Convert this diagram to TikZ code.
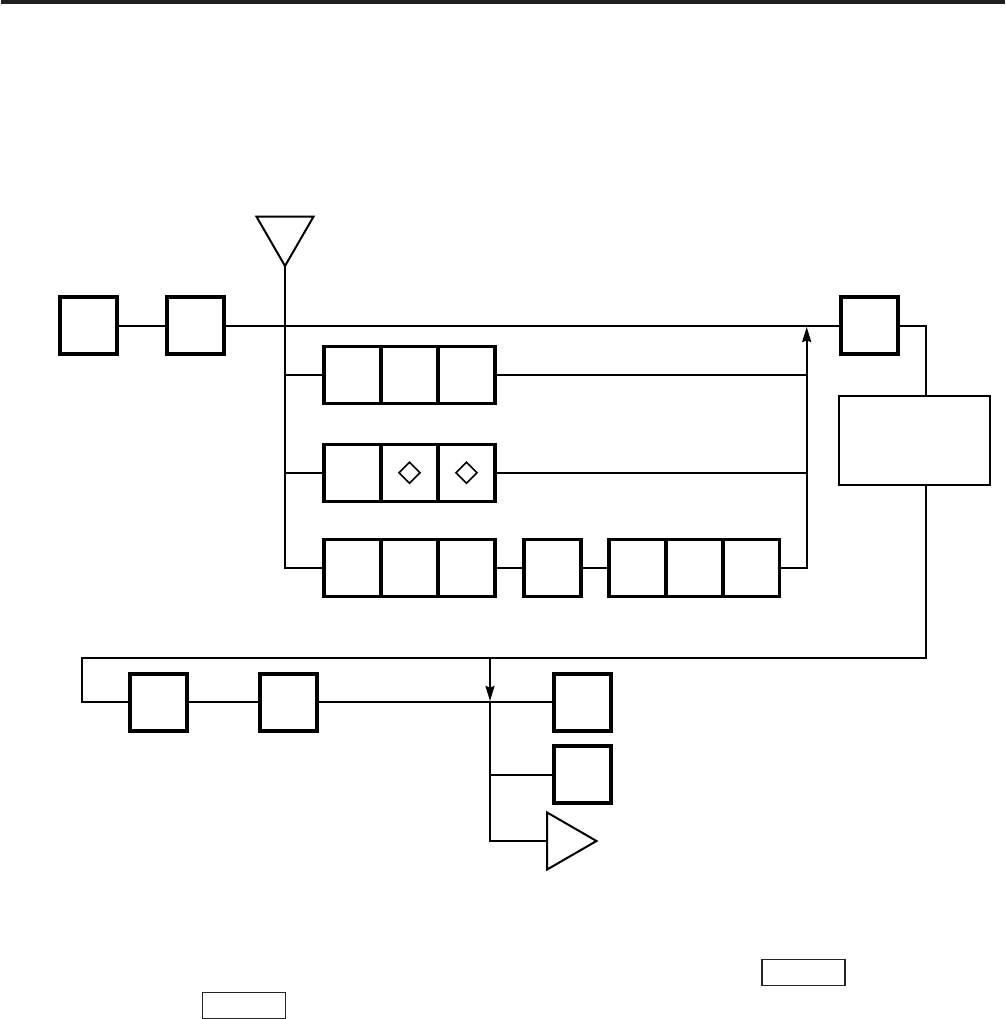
\documentclass[tikz,border=0pt]{standalone}
\usetikzlibrary{arrows.meta,shapes.geometric}

\begin{document}
\begin{tikzpicture}[
    x=1pt, y=-1pt,
    >={Stealth[length=15pt,width=9pt,inset=1.5pt]},
    line width=2pt,
    blk/.style={rectangle, draw, line width=3.7pt, minimum width=57pt, minimum height=57pt,
                inner sep=0pt, outer sep=0pt},
    ctl/.style={rectangle, draw, line width=2pt, minimum width=150.5pt, minimum height=89pt,
                inner sep=0pt, outer sep=0pt},
    mrk/.style={diamond, draw, line width=1.5pt, aspect=1, minimum size=21pt,
                inner sep=0pt, outer sep=0pt},
    ref/.style={rectangle, draw=black!85, line width=1.2pt, minimum width=83pt, minimum height=26pt,
                inner sep=0pt, outer sep=0pt},
    tri/.style={regular polygon, regular polygon sides=3, draw, line width=2pt,
                minimum size=66pt, inner sep=0pt, outer sep=0pt},
  ]
  \useasboundingbox (0,0) rectangle (1005,1019);

  %% top rule
  \node[rectangle, fill=black!88, minimum width=1004pt, minimum height=4pt,
        inner sep=0pt, outer sep=0pt] (toprule) at (502.5,2) {};

  %% ===== upper chain =====
  \node[blk] (inl)  at (88.7,325.5) {};
  \node[blk] (ins)  at (195.5,325.5) {};
  \node[blk] (outs) at (869.5,325.5) {};
  \node[ctl] (ctrl) at (914.5,440.5) {};
  \node[tri, shape border rotate=180] (ant) at (285,233) {};

  %% three parallel rows
  \foreach \rowy/\rowname in {375/rowa,473/rowb,568/rowc} {
    \node[blk] (\rowname l) at (352.5,\rowy) {};
    \node[blk] (\rowname m) at (409.5,\rowy) {};
    \node[blk] (\rowname r) at (466.5,\rowy) {};
  }
  \node[mrk] (marka) at (409.5,472.7) {};
  \node[mrk] (markb) at (466.5,472.7) {};

  \node[blk] (mid)  at (552.2,568) {};
  \node[blk] (rowdl) at (637.5,568) {};
  \node[blk] (rowdm) at (694.5,568) {};
  \node[blk] (rowdr) at (751,568) {};

  %% ===== lower chain =====
  \node[blk] (lowa) at (158.7,702.3) {};
  \node[blk] (lowb) at (288.7,702.3) {};
  \node[blk] (outa) at (582.7,702.3) {};
  \node[blk] (outb) at (582.7,774.5) {};
  \node[tri, shape border rotate=-90] (amp) at (563.5,841) {};

  %% free ends
  \coordinate (sumtop) at (806.7,327);
  \coordinate (lowtop) at (490,658);
  \coordinate (lowjoin) at (490,701);
  \coordinate (backx) at (82,658);

  %% ===== upper wiring =====
  \draw (inl.east) -- (ins.west);
  \draw (ins.east) -- (outs.west);
  \draw (ant.corner 1) |- (rowcl.west);
  \draw (rowal.west) -- (rowal.west -| ant.corner 1);
  \draw (rowbl.west) -- (rowbl.west -| ant.corner 1);
  \draw (rowcr.east) -- (mid.west);
  \draw (mid.east) -- (rowdl.west);
  \draw[->] (rowdr.east) -| (sumtop);
  \draw (rowar.east) -- (rowar.east -| sumtop);
  \draw (rowbr.east) -- (rowbr.east -| sumtop);
  \draw (outs.east) -| (ctrl.north -| 926,0);

  %% ===== lower wiring =====
  \draw (ctrl.south -| 926,0) |- (backx) |- (lowa.west);
  \draw (lowa.east) -- (lowb.west);
  \draw (lowb.east) -- (outa.west);
  \draw[->] (lowtop) -- (lowjoin);
  \draw (lowjoin) |- (amp.side 2);
  \draw (outb.west) -- (outb.west -| lowjoin);

  %% ===== empty reference boxes =====
  \node[ref] (refa) at (803.4,972.4) {};
  \node[ref] (refb) at (243.9,1005.3) {};
\end{tikzpicture}
\end{document}
